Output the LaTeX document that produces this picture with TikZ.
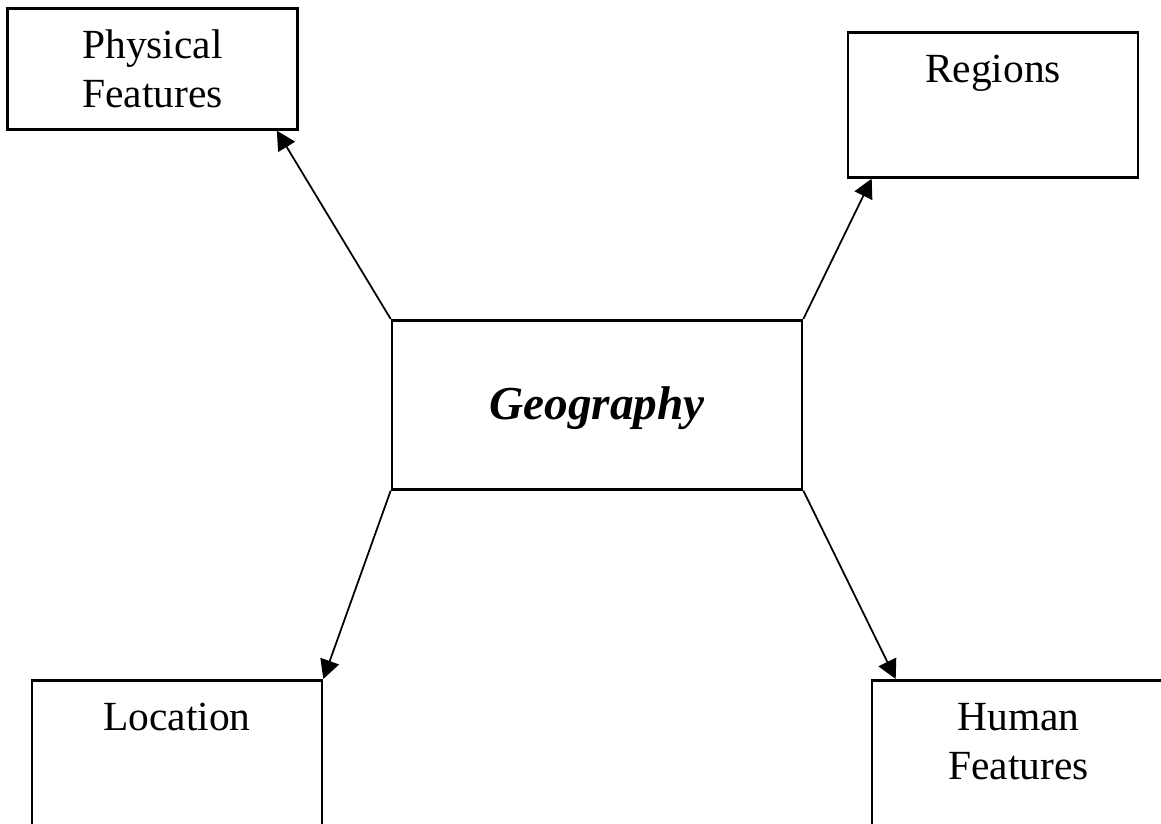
\documentclass[tikz,border=0pt]{standalone}
\usepackage{fontspec}
\setmainfont{Liberation Serif}
\usetikzlibrary{arrows.meta}

\begin{document}
\begin{tikzpicture}[>={Triangle[length=3.8mm,width=3.9mm]},
  font=\fontsize{23.6}{28}\selectfont,
  blk/.style={draw, line width=1.5pt, inner xsep=0pt, inner ysep=0pt,
              minimum width=5.8cm, anchor=north, align=center, text height=1cm},
  lnk/.style={->, line width=1pt}]
\useasboundingbox (0,0) rectangle (23.22,16.46);

% --- centre topic ---
\node[blk, minimum width=8.2cm, text height=1.98cm, text depth=1.4cm,
      font=\fontsize{26.9}{32}\selectfont\bfseries\itshape] (geo) at (11.94,10.08) {Geography};

% --- the four themes (two-line ones sit on their last line) ---
\node[blk, text height=1.98cm, text depth=0.44cm] (phys) at (3.05,16.32) {Physical\\Features};
\node[blk, text depth=1.9cm] (reg) at (19.86,15.84) {Regions};
\node[blk, text depth=2.2cm] (loc) at (3.54,2.88) {Location};
\node[blk, minimum width=5.86cm, text height=1.98cm, text depth=1.22cm] (hum) at (20.37,2.88) {Human\\Features};

% --- links out of the corners ---
\draw[lnk] (geo.north west) -- ([xshift=-4.4mm]phys.south east);
\draw[lnk] (geo.north east) -- ([xshift=5mm]reg.south west);
\draw[lnk] (geo.south west) -- (loc.north east);
\draw[lnk] (geo.south east) -- ([xshift=5mm]hum.north west);
\end{tikzpicture}
\end{document}
